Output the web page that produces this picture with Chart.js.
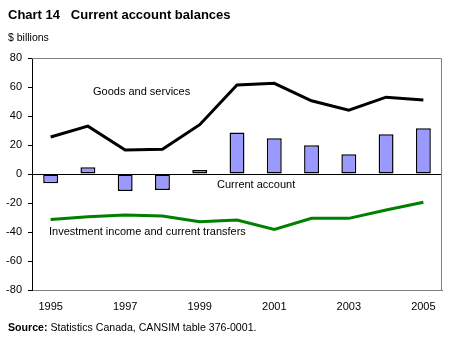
<!DOCTYPE html>
<html>
<head>
<meta charset="utf-8">
<script src="https://cdn.jsdelivr.net/npm/chart.js@4"></script>
<style>
  html, body { margin: 0; padding: 0; background: #fff; }
  #wrap { position: relative; width: 449px; height: 341px; font-family: "Liberation Sans", Arial, sans-serif; }
  #chart { position: absolute; left: 0; top: 0; }
  .txt { position: absolute; color: #000; white-space: pre; }
  #title { left: 8px; top: 7px; font-size: 13px; font-weight: bold; }
  #unit { left: 8px; top: 31px; font-size: 10.5px; }
  #source { left: 8px; top: 321px; font-size: 10.6px; }
</style>
</head>
<body>
<div id="wrap">
  <canvas id="chart" width="449" height="341"></canvas>
  <div class="txt" id="title">Chart 14   Current account balances</div>
  <div class="txt" id="unit">$ billions</div>
  <div class="txt" id="source"><b>Source:</b> Statistics Canada, CANSIM table 376-0001.</div>
</div>
<script>
// years on the x axis
const years = ["1995", "1996", "1997", "1998", "1999", "2000", "2001", "2002", "2003", "2004", "2005"];

// series, $ billions
const currentAccount = [-6.4, 4.6, -11.7, -11, 2.8, 28.7, 24.6, 19.8, 13.6, 27.4, 31.5];
const goodsServices = [25.5, 33, 16.5, 17, 34, 61.4, 62.5, 50.5, 44, 53, 51];
const investmentIncome = [-31.3, -29.4, -28.3, -29, -32.9, -31.7, -38.2, -30.6, -30.6, -24.8, -19.5];

// y axis ticks
const yTicks = [80, 60, 40, 20, 0, -20, -40, -60, -80];

const FONT = "Liberation Sans";

// labels inside the plot + grey frame
const annotations = {
    id: "annotations",
    beforeDatasetsDraw(chart) {
        const a = chart.chartArea;
        const ctx = chart.ctx;
        ctx.save();
        ctx.strokeStyle = "#808080";
        ctx.lineWidth = 1;
        ctx.beginPath();
        ctx.moveTo(a.left, a.top + 0.5);
        ctx.lineTo(a.right - 0.5, a.top + 0.5);
        ctx.lineTo(a.right - 0.5, a.bottom);
        ctx.stroke();
        ctx.restore();
    },
    afterDatasetsDraw(chart) {
        const ctx = chart.ctx;
        ctx.save();
        ctx.fillStyle = "#000";
        ctx.font = "11px '" + FONT + "'";
        ctx.textBaseline = "middle";
        ctx.textAlign = "left";
        ctx.fillText("Goods and services", 93, 92);
        ctx.fillText("Current account", 217, 185);
        ctx.fillText("Investment income and current transfers", 49, 232);
        ctx.restore();
    }
};

new Chart(document.getElementById("chart"), {
    data: {
        labels: years,
        datasets: [
            {
                type: "line",
                label: "Goods and services",
                data: goodsServices,
                borderColor: "#000",
                borderWidth: 3,
                pointRadius: 0,
                tension: 0,
                order: 1
            },
            {
                type: "line",
                label: "Investment income and current transfers",
                data: investmentIncome,
                borderColor: "#008000",
                borderWidth: 3,
                pointRadius: 0,
                tension: 0,
                order: 1
            },
            {
                type: "bar",
                label: "Current account",
                data: currentAccount,
                backgroundColor: "#9999ff",
                borderColor: "#000",
                borderWidth: 1.5,
                borderSkipped: false,
                barPercentage: 0.4,
                categoryPercentage: 1,
                order: 2
            }
        ]
    },
    options: {
        responsive: false,
        animation: false,
        layout: {
            padding: { left: 0, right: 7, top: 58, bottom: 21 }
        },
        plugins: {
            legend: { display: false },
            tooltip: { enabled: false }
        },
        scales: {
            x: {
                type: "category",
                offset: true,
                grid: { display: false, drawTicks: false },
                border: { color: "#808080", width: 1 },
                ticks: {
                    autoSkip: false,
                    maxRotation: 0,
                    padding: 10,
                    color: "#000",
                    font: { family: FONT, size: 11 },
                    callback: function(value, index) {
                        return index % 2 === 0 ? years[index] : "";
                    }
                },
                afterFit: function(scale) { scale.height = 30; }
            },
            y: {
                min: -80,
                max: 80,
                afterBuildTicks: function(scale) {
                    scale.ticks = yTicks.map(v => ({ value: v }));
                },
                grid: {
                    drawOnChartArea: true,
                    color: ctx => ctx.tick && ctx.tick.value === 0 ? "#000" : "rgba(0,0,0,0)",
                    tickColor: "#000",
                    tickLength: 4,
                    lineWidth: 1
                },
                border: { color: "#000", width: 1 },
                ticks: {
                    padding: 6,
                    color: "#000",
                    font: { family: FONT, size: 11 }
                },
                afterFit: function(scale) { scale.width = 32; }
            }
        }
    },
    plugins: [annotations]
});
</script>
</body>
</html>
